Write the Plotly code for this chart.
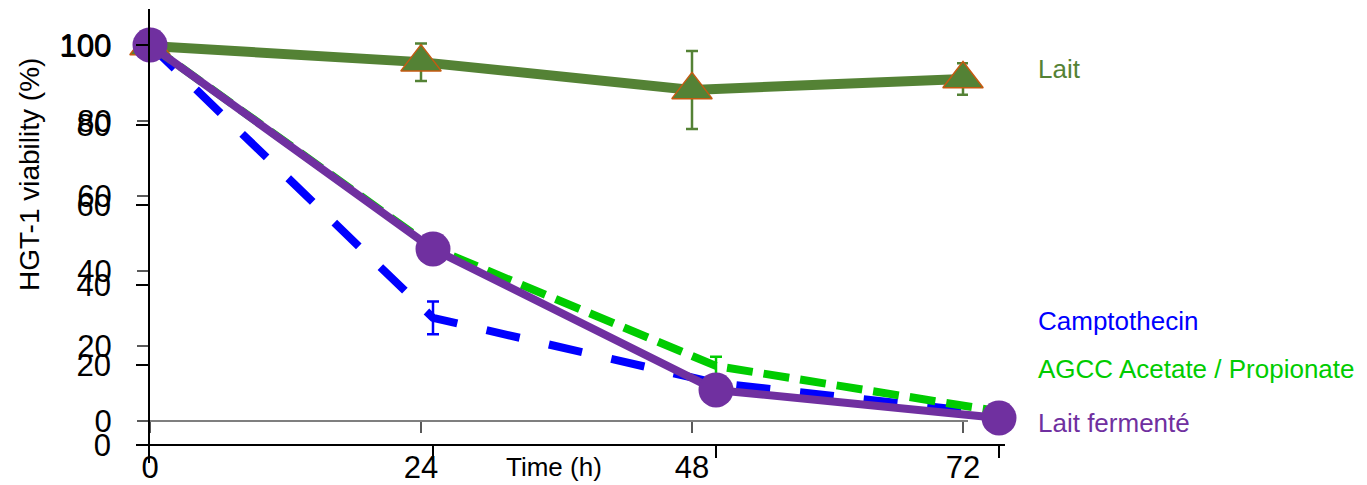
import plotly.graph_objects as go

# ---------------- data ----------------
time_h = [0, 24, 48, 72]
x_tick_labels = ["0", "24", "48", "72"]
y_ticks = [0, 20, 40, 60, 80, 100]

lait = [100, 95.7, 88.3, 91.2]
lait_err = [0, 5.0, 10.4, 4.2]

camptothecin = [100, 31.8, 15.5, 7.7]
camptothecin_err = [0, 4.1, 0, 0]

agcc = [100, 49.3, 19.75, 8.4]
agcc_err = [0, 0, 2.3, 0]

lait_fermente = [100, 49.0, 13.75, 6.75]

series_names = ["Lait", "Camptothecin", "AGCC Acetate / Propionate", "Lait fermenté"]

# ---------------- styles ----------------
C_LAIT = "#548235"
C_CAMPTO = "#0000FF"
C_AGCC = "#00CC00"
C_FERM = "#7030A0"
FONT = "Liberation Sans, Arial, sans-serif"

OFF = 8  # page body margin
W, H = 1367 - OFF, 485 - OFF
# reference pixel coords (window) -> figure coords
L, R, T, B = 150 - OFF, 1005 - OFF, 8 - OFF + 1, 463 - OFF
PH = B - T


def py(pix):
    return (B - (pix - OFF)) / PH


def px(pix):
    return ((pix - OFF) - L) / (R - L)


fig = go.Figure()

fig.add_trace(go.Scatter(
    x=time_h, y=lait, name=series_names[0], mode="lines+markers",
    line=dict(color=C_LAIT, width=10),
    marker=dict(symbol="triangle-up", size=35, color=C_LAIT,
                line=dict(color="#C55A11", width=1.5)),
    error_y=dict(type="data", array=lait_err, color=C_LAIT, thickness=2.5, width=6),
    cliponaxis=False, xaxis="x", yaxis="y", showlegend=False))

fig.add_trace(go.Scatter(
    x=time_h, y=camptothecin, name=series_names[1], mode="lines",
    line=dict(color=C_CAMPTO, width=8, dash="34px,30px"),
    error_y=dict(type="data", array=camptothecin_err, color=C_CAMPTO, thickness=2.5, width=6),
    cliponaxis=False, xaxis="x2", yaxis="y2", showlegend=False))

fig.add_trace(go.Scatter(
    x=time_h, y=agcc, name=series_names[2], mode="lines",
    line=dict(color=C_AGCC, width=8, dash="26px,11px"),
    error_y=dict(type="data", array=agcc_err, color=C_AGCC, thickness=2.5, width=6),
    cliponaxis=False, xaxis="x2", yaxis="y2", showlegend=False))

fig.add_trace(go.Scatter(
    x=time_h, y=lait_fermente, name=series_names[3], mode="lines+markers",
    line=dict(color=C_FERM, width=8),
    marker=dict(symbol="circle", size=35, color=C_FERM),
    cliponaxis=False, xaxis="x2", yaxis="y2", showlegend=False))

# Set A: x 0->150px, 72->963px ; y 0->421px, 100->46px (window px)
ax_pp = (963 - 150) / 72.0
ay_pp = (421 - 46) / 100.0
# Set B: x 0->150px, 72->999px ; y 0->445px, 100->45px
bx_pp = (999 - 150) / 72.0
by_pp = (445 - 45) / 100.0

yA0 = 421 - OFF
yB0 = 445 - OFF
xA_right = 968 - OFF

fig.update_layout(
    width=W, height=H,
    margin=dict(l=L, r=W - R, t=T, b=H - B, pad=0, autoexpand=False),
    paper_bgcolor="white", plot_bgcolor="rgba(0,0,0,0)",
    font=dict(family=FONT, color="black"),
    xaxis=dict(domain=[0, (xA_right - L) / (R - L)], range=[0, (xA_right - L) / ax_pp],
               anchor="free", position=(B - yA0) / PH, automargin=False,
               showline=True, linecolor="#7F7F7F", linewidth=1.5,
               ticks="outside", ticklen=11, tickcolor="#595959", tickwidth=1.5,
               tickvals=time_h, ticktext=x_tick_labels,
               tickfont=dict(size=31, color="black"), ticklabelstandoff=8,
               showgrid=False, zeroline=False, fixedrange=True),
    xaxis2=dict(domain=[0, 1], range=[0, (R - L) / bx_pp],
                anchor="free", position=(B - yB0) / PH, automargin=False,
                showline=True, linecolor="black", linewidth=1.5,
                ticks="outside", ticklen=12, tickcolor="black", tickwidth=1.5,
                tickvals=time_h[1:], showticklabels=False,
                showgrid=False, zeroline=False, fixedrange=True),
    yaxis=dict(domain=[0, 1], range=[(yA0 - B) / ay_pp, (yA0 - T) / ay_pp],
               anchor="x", showline=False, automargin=False,
               ticks="outside", ticklen=12, tickcolor="#595959", tickwidth=1.5,
               tickvals=y_ticks, tickfont=dict(size=31, color="black"),
               ticklabelstandoff=19,
               showgrid=False, zeroline=False, fixedrange=True),
    yaxis2=dict(domain=[0, 1], range=[(yB0 - B) / by_pp, (yB0 - T) / by_pp],
                anchor="x2", showline=True, linecolor="black", linewidth=1.5,
                automargin=False,
                ticks="outside", ticklen=12, tickcolor="black", tickwidth=1.5,
                tickvals=y_ticks, tickfont=dict(size=31, color="black"),
                ticklabelstandoff=19,
                showgrid=False, zeroline=False, fixedrange=True),
)

annos = [
    (series_names[0], C_LAIT, 69),
    (series_names[1], C_CAMPTO, 321),
    (series_names[2], C_AGCC, 369),
    (series_names[3], C_FERM, 423),
]
for txt, col, ypix in annos:
    fig.add_annotation(text=txt, xref="paper", yref="paper", x=px(1036), y=py(ypix),
                       xanchor="left", yanchor="middle", showarrow=False,
                       font=dict(size=26, color=col, family=FONT))

fig.add_annotation(text="Time (h)", xref="paper", yref="paper", x=px(554), y=py(467),
                   xanchor="center", yanchor="middle", showarrow=False,
                   font=dict(size=26, color="black", family=FONT))

fig.add_annotation(text="HGT-1 viability (%)", xref="paper", yref="paper",
                   x=px(30), y=py(175), textangle=-90,
                   xanchor="center", yanchor="middle", showarrow=False,
                   font=dict(size=28, color="black", family=FONT))

fig.write_html("out.html")
